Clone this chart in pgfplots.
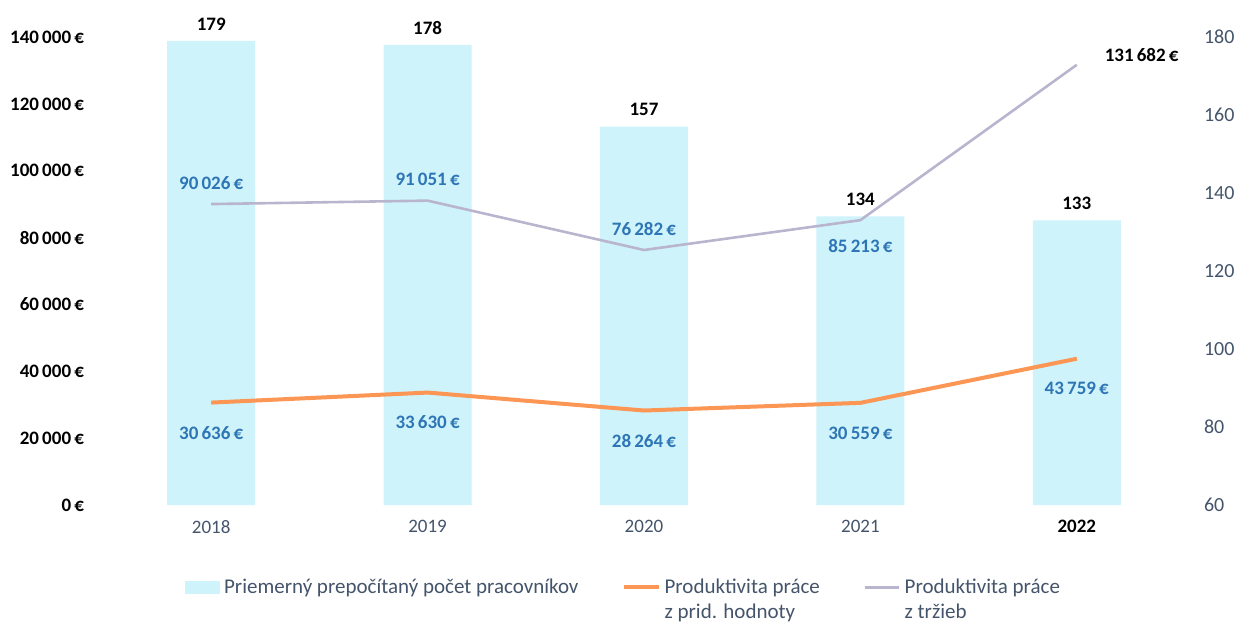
\documentclass[border=0pt]{standalone}
\usepackage{fontspec}
\setmainfont{Carlito}
\usepackage{pgfplots}
\pgfplotsset{compat=1.18}

\definecolor{barc}{RGB}{206,243,250}
\definecolor{orng}{RGB}{252,150,85}
\definecolor{grayl}{RGB}{186,181,206}
\definecolor{labblue}{RGB}{46,117,182}
\definecolor{slate}{RGB}{68,84,106}

\newcommand{\lbl}{\fontsize{9.5}{11}\selectfont}
\newcommand{\eur}[1]{\pgfmathprintnumber[fixed,precision=0,1000 sep={\,}]{#1}\,€}

\pgfplotsset{
  base/.style={
    scale only axis, width=541pt, height=234pt,
    xmin=-0.5, xmax=4.5,
    axis line style={draw=none},
    major tick length=0pt,
    /pgf/number format/assume math mode=true,
    tick label style={font=\lbl},
  },
}

\begin{document}
\begin{tikzpicture}
\useasboundingbox (-51.5pt,-58pt) rectangle (566.5pt,252.5pt);
% employees, right axis
\begin{axis}[base,
  axis x line*=bottom, axis y line*=right,
  ymin=60, ymax=180, ytick={60,80,...,180},
  xtick=data, xticklabels={2018,2019,2020,2021,{\textbf{\color{black}2022}}},
  xticklabel style={text=slate, yshift=-4pt},
  yticklabel style={text=slate, xshift=6pt, font=\fontsize{10}{12}\selectfont},
  ybar, bar width=44pt,
  nodes near coords,
  every node near coord/.append style={font=\lbl\bfseries, anchor=center,
                                       yshift=8.5pt, text=black}]
\addplot[fill=barc, draw=none] coordinates {(0,179) (1,178) (2,157) (3,134) (4,133)};
\end{axis}
% productivity, left axis
\begin{axis}[base,
  axis x line=none, axis y line*=left,
  ymin=0, ymax=140000, ytick={0,20000,...,140000},
  scaled y ticks=false,
  yticklabel={\eur{\tick}},
  yticklabel style={font=\lbl\bfseries, text=black, xshift=-6pt},
  legend style={at={(0.07,-0.14)}, anchor=north west, draw=none, fill=none,
                legend columns=3, font=\fontsize{10.5}{12.5}\selectfont, text=slate,
                cells={align=left},
                /tikz/every even column/.append style={column sep=20pt}},
  legend image post style={yshift=6.5pt}]
\addlegendimage{area legend, fill=barc, draw=barc}
\addlegendentry{Priemerný prepočítaný počet pracovníkov\\\mbox{}}
\addplot[orng, line width=2pt,
  nodes near coords={\eur{\pgfplotspointmeta}},
  every node near coord/.append style={font=\lbl\bfseries, anchor=center,
                                       yshift=-15pt, text=labblue}]
  coordinates {(0,30636) (1,33630) (2,28264) (3,30559) (4,43759)};
\addlegendentry{Produktivita práce\\z prid. hodnoty}
\addplot[grayl, line width=1.3pt,
  nodes near coords={\eur{\pgfplotspointmeta}},
  every node near coord/.append style={font=\lbl\bfseries},
  coordinate style/.condition={x<3}{anchor=center, text=labblue, yshift=10.5pt},
  coordinate style/.condition={x==3}{anchor=center, text=labblue, yshift=-13pt},
  coordinate style/.condition={x==4}{anchor=west, text=black, xshift=10pt, yshift=5pt}]
  coordinates {(0,90026) (1,91051) (2,76282) (3,85213) (4,131682)};
\addlegendentry{Produktivita práce\\z tržieb}
\end{axis}
\end{tikzpicture}
\end{document}
